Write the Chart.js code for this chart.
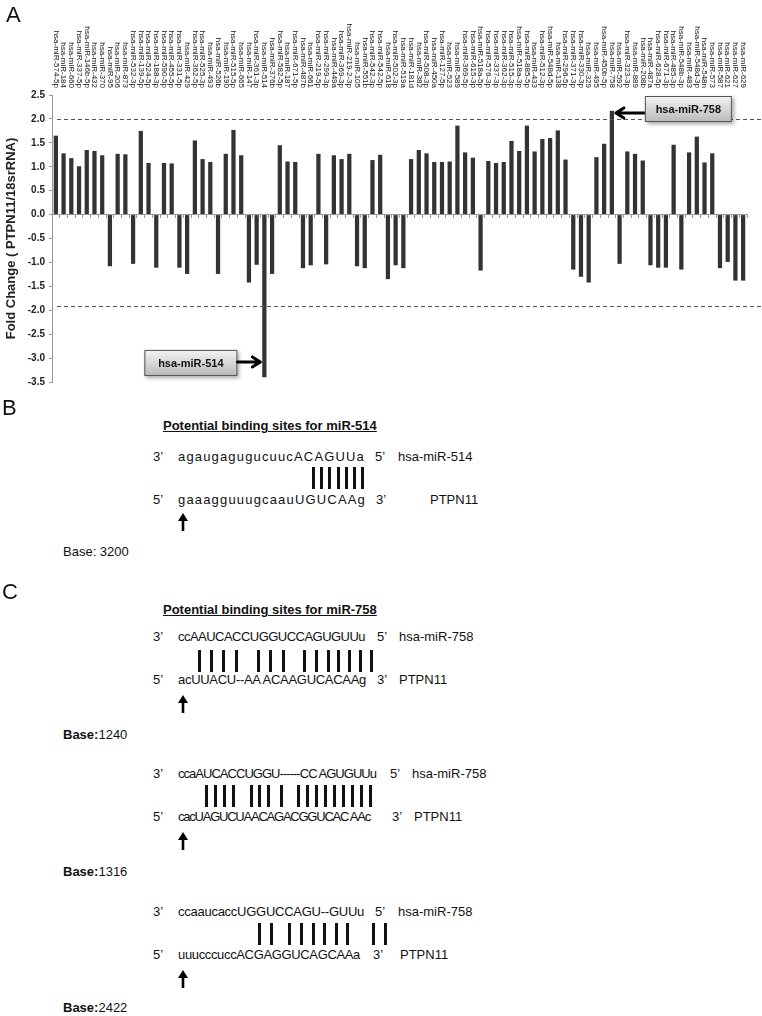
<!DOCTYPE html>
<html>
<head>
<meta charset="utf-8">
<script src="https://cdn.jsdelivr.net/npm/chart.js@4.4.1/dist/chart.umd.min.js"></script>
<style>
  body { margin: 0; width: 762px; height: 1016px; background: #fff; position: relative; overflow: hidden;
         font-family: "Liberation Sans", Arial, sans-serif; color: #111; }
  #chartBox { position: absolute; left: 0; top: 0; width: 762px; height: 392px; }
  .t { position: absolute; font-size: 13px; line-height: 16px; white-space: nowrap; }
  .panel { position: absolute; font-size: 22px; line-height: 24px; }
  .title { font-weight: bold; text-decoration: underline; }
  .bp { position: absolute; width: 3px; height: 22px; background: #111; }
  .up { position: absolute; }
</style>
</head>
<body>
<div id="chartBox"><canvas id="foldChart" width="762" height="392"></canvas></div>
<div class="panel" style="left:6px;top:3px">A</div>

<!-- Panel B -->
<div class="panel" style="left:2px;top:396px">B</div>
<div class="t title" style="left:163px;top:418px">Potential binding sites for miR-514</div>
<div class="t" style="left:153px;top:449px">3’</div>
<div class="t seq" data-w="187" style="left:178px;top:449px">agaugagugucuucACAGUUa</div>
<div class="t" style="left:375px;top:449px">5’</div>
<div class="t" style="left:398px;top:449px">hsa-miR-514</div>
<div class="t" style="left:153px;top:492px">5’</div>
<div class="t seq" data-w="188" style="left:178px;top:492px">gaaagguuugcaauUGUCAAg</div>
<div class="t" style="left:376px;top:492px">3’</div>
<div class="t" style="left:430px;top:492px">PTPN11</div>
<div class="t" style="left:63px;top:544px">Base: 3200</div>

<!-- Panel C -->
<div class="panel" style="left:2px;top:580px">C</div>
<div class="t title" style="left:163px;top:602px">Potential binding sites for miR-758</div>

<div class="t" style="left:153px;top:629px">3’</div>
<div class="t seq" data-w="187" style="left:178px;top:629px">ccAAUCACCUGGUCCAGUGUUu</div>
<div class="t" style="left:377px;top:629px">5’</div>
<div class="t" style="left:399px;top:629px">hsa-miR-758</div>
<div class="t" style="left:153px;top:672px">5’</div>
<div class="t seq" data-w="188" style="left:178px;top:672px">acUUACU--AA ACAAGUCACAAg</div>
<div class="t" style="left:377px;top:672px">3’</div>
<div class="t" style="left:399px;top:672px">PTPN11</div>
<div class="t" style="left:63px;top:727px"><b>Base:</b>1240</div>

<div class="t" style="left:153px;top:766px">3’</div>
<div class="t seq" data-w="198" style="left:178px;top:766px">ccaAUCACCUGGU------CC AGUGUUu</div>
<div class="t" style="left:390px;top:766px">5’</div>
<div class="t" style="left:412px;top:766px">hsa-miR-758</div>
<div class="t" style="left:153px;top:809px">5’</div>
<div class="t seq" data-w="192" style="left:178px;top:809px">cacUAGUCUAACAGACGGUCAC AAc</div>
<div class="t" style="left:392px;top:809px">3’</div>
<div class="t" style="left:414px;top:809px">PTPN11</div>
<div class="t" style="left:63px;top:864px"><b>Base:</b>1316</div>

<div class="t" style="left:153px;top:904px">3’</div>
<div class="t seq" data-w="186" style="left:178px;top:904px">ccaaucaccUGGUCCAGU--GUUu</div>
<div class="t" style="left:375px;top:904px">5’</div>
<div class="t" style="left:398px;top:904px">hsa-miR-758</div>
<div class="t" style="left:153px;top:947px">5’</div>
<div class="t seq" data-w="182" style="left:178px;top:947px">uuucccuccACGAGGUCAGCAAa</div>
<div class="t" style="left:373px;top:947px">3’</div>
<div class="t" style="left:400px;top:947px">PTPN11</div>
<div class="t" style="left:63px;top:1000px"><b>Base:</b>2422</div>

<script>
// miRNAs in plate order (left to right)
const mirNames = [
  'hsa-miR-574-5p', 'hsa-miR-184', 'hsa-miR-660', 'hsa-miR-337-5p', 'hsa-miR-146b-5p', 'hsa-miR-432',
  'hsa-miR-370', 'hsa-miR-95', 'hsa-miR-206', 'hsa-miR-873', 'hsa-miR-532-3p', 'hsa-miR-139-5p',
  'hsa-miR-524-5p', 'hsa-miR-188-3p', 'hsa-miR-590-5p', 'hsa-miR-455-5p', 'hsa-miR-331-5p', 'hsa-miR-429',
  'hsa-miR-362-5p', 'hsa-miR-525-3p', 'hsa-miR-493', 'hsa-miR-526b', 'hsa-miR-190', 'hsa-miR-515-5p',
  'hsa-miR-665', 'hsa-miR-147', 'hsa-miR-361-3p', 'hsa-miR-514', 'hsa-miR-376b', 'hsa-miR-582-5p',
  'hsa-miR-187', 'hsa-miR-671-5p', 'hsa-miR-487b', 'hsa-miR-661', 'hsa-miR-219-5p', 'hsa-miR-299-3p',
  'hsa-miR-449a', 'hsa-miR-369-3p', 'hsa-miR-219-2-3p', 'hsa-miR-105', 'hsa-miR-551b', 'hsa-miR-542-3p',
  'hsa-miR-542-5p', 'hsa-miR-618', 'hsa-miR-502-3p', 'hsa-miR-519a', 'hsa-miR-181d', 'hsa-miR-382',
  'hsa-miR-508-3p', 'hsa-miR-450a', 'hsa-miR-127-5p', 'hsa-miR-523', 'hsa-miR-589', 'hsa-miR-369-5p',
  'hsa-miR-615-3p', 'hsa-miR-518a-5p', 'hsa-miR-576-3p', 'hsa-miR-337-3p', 'hsa-miR-362-3p', 'hsa-miR-515-3p',
  'hsa-miR-518a-3p', 'hsa-miR-885-5p', 'hsa-miR-433', 'hsa-miR-512-3p', 'hsa-miR-548d-5p', 'hsa-miR-138',
  'hsa-miR-296-5p', 'hsa-miR-371-3p', 'hsa-miR-330-3p', 'hsa-miR-329', 'hsa-miR-495', 'hsa-miR-450b-5p',
  'hsa-miR-758', 'hsa-miR-592', 'hsa-miR-323-3p', 'hsa-miR-889', 'hsa-miR-208b', 'hsa-miR-487a',
  'hsa-miR-628-5p', 'hsa-miR-671-3p', 'hsa-miR-485-3p', 'hsa-miR-548b-3p', 'hsa-miR-483', 'hsa-miR-548d-3p',
  'hsa-miR-548n', 'hsa-miR-573', 'hsa-miR-587', 'hsa-miR-621', 'hsa-miR-627', 'hsa-miR-629'
];

// fold change PTPN11 / 18srRNA
const foldChange = [
  1.65, 1.28, 1.18, 1.01, 1.35, 1.33, 1.24, -1.08, 1.27, 1.26, -1.03, 1.75,
  1.08, -1.11, 1.08, 1.07, -1.11, -1.24, 1.55, 1.16, 1.10, -1.24, 1.27, 1.77,
  1.24, -1.42, -1.05, -3.40, -1.24, 1.45, 1.11, 1.10, -1.12, -1.06, 1.27, -1.04,
  1.24, 1.16, 1.27, -1.08, -1.12, 1.14, 1.25, -1.35, -1.06, -1.12, 1.16, 1.35,
  1.28, 1.10, 1.10, 1.11, 1.86, 1.30, 1.19, -1.17, 1.12, 1.08, 1.10, 1.54,
  1.33, 1.86, 1.32, 1.58, 1.60, 1.76, 1.15, -1.15, -1.30, -1.42, 1.20, 1.48,
  2.17, -1.03, 1.32, 1.27, 1.13, -1.06, -1.11, -1.11, 1.46, -1.15, 1.30, 1.63,
  1.09, 1.28, -1.12, -0.99, -1.38, -1.38
];

const yMin = -3.5;
const yMax = 2.5;
const yStep = 0.5;
const cutoffs = [2.0, -1.92];
const callouts = ['hsa-miR-758', 'hsa-miR-514'];

// stretch each sequence line to the width it has in the figure
document.querySelectorAll('.seq').forEach(el => {
  const natural = el.getBoundingClientRect().width;
  const n = el.textContent.length;
  el.style.letterSpacing = ((+el.dataset.w - natural) / n) + 'px';
});

// base-pair marks in panels B and C: [top, x positions]
const pairRows = [
  [467, [312, 320, 328, 337, 345, 353, 361]],
  [650, [198, 210, 222, 235, 257, 269, 282, 303, 315, 327, 337, 348, 359, 370]],
  [785, [205, 214, 223, 232, 250, 258, 267, 280, 297, 306, 315, 324, 333, 342, 351, 360, 369]],
  [923, [258, 270, 288, 300, 312, 323, 335, 346, 372, 384]]
];
const arrowRows = [512, 694, 831, 969];

pairRows.forEach(([top, xs]) => {
  xs.forEach(x => {
    const d = document.createElement('div');
    d.className = 'bp';
    d.style.left = x + 'px';
    d.style.top = top + 'px';
    document.body.appendChild(d);
  });
});
arrowRows.forEach(top => {
  const s = document.createElementNS('http://www.w3.org/2000/svg', 'svg');
  s.setAttribute('class', 'up');
  s.setAttribute('width', '12');
  s.setAttribute('height', '20');
  s.style.left = '177px';
  s.style.top = top + 'px';
  s.innerHTML = '<path d="M6 19 V7" stroke="#000" stroke-width="2.6"/><path d="M1 9 L6 1 L11 9 Z" fill="#000"/>';
  document.body.appendChild(s);
});

function drawCallout(ctx, text, left, top, w, h) {
  ctx.save();
  ctx.shadowColor = 'rgba(0,0,0,0.35)';
  ctx.shadowBlur = 4;
  ctx.shadowOffsetX = 2;
  ctx.shadowOffsetY = 2;
  const g = ctx.createLinearGradient(0, top, 0, top + h);
  g.addColorStop(0, '#f4f4f4');
  g.addColorStop(1, '#b9b9b9');
  ctx.fillStyle = g;
  ctx.fillRect(left, top, w, h);
  ctx.restore();
  ctx.save();
  ctx.strokeStyle = '#555';
  ctx.lineWidth = 1;
  ctx.strokeRect(left + 0.5, top + 0.5, w - 1, h - 1);
  ctx.fillStyle = '#111';
  ctx.font = 'bold 11px "Liberation Sans", Arial, sans-serif';
  ctx.textAlign = 'center';
  ctx.textBaseline = 'middle';
  ctx.fillText(text, left + w / 2, top + h / 2 + 1);
  ctx.restore();
}

function drawArrow(ctx, fromX, toX, yy) {
  const dir = toX > fromX ? 1 : -1;
  ctx.save();
  ctx.strokeStyle = '#000';
  ctx.lineWidth = 3;
  ctx.lineCap = 'round';
  ctx.lineJoin = 'round';
  ctx.beginPath();
  ctx.moveTo(fromX, yy);
  ctx.lineTo(toX, yy);
  ctx.moveTo(toX - dir * 8, yy - 5);
  ctx.lineTo(toX, yy);
  ctx.lineTo(toX - dir * 8, yy + 5);
  ctx.stroke();
  ctx.restore();
}

const overlay = {
  id: 'overlay',
  afterDraw(chart) {
    const { ctx, chartArea, scales: { x, y } } = chart;

    // rotated miRNA names above the plot
    ctx.save();
    ctx.font = '8px "Liberation Sans", Arial, sans-serif';
    ctx.fillStyle = '#111';
    ctx.textAlign = 'right';
    ctx.textBaseline = 'middle';
    mirNames.forEach((name, i) => {
      ctx.save();
      ctx.translate(x.getPixelForValue(i), 88);
      ctx.rotate(Math.PI / 2);
      ctx.fillText(name, 0, 0);
      ctx.restore();
    });
    ctx.restore();

    // 2-fold cut-off lines
    ctx.save();
    ctx.strokeStyle = '#555';
    ctx.lineWidth = 1;
    ctx.setLineDash([4, 3]);
    cutoffs.forEach(v => {
      const py = Math.round(y.getPixelForValue(v)) + 0.5;
      ctx.beginPath();
      ctx.moveTo(chartArea.left + 5, py);
      ctx.lineTo(chart.width, py);
      ctx.stroke();
    });
    ctx.restore();

    // call-out boxes
    const i758 = mirNames.indexOf(callouts[0]);
    const b758 = x.getPixelForValue(i758);
    const a758 = y.getPixelForValue(2.0) - 6;
    drawArrow(ctx, b758 + 33, b758 + 4, a758);
    drawCallout(ctx, callouts[0], b758 + 33, y.getPixelForValue(yMax) + 1, 87, 26);

    const i514 = mirNames.indexOf(callouts[1]);
    const b514 = x.getPixelForValue(i514);
    const top514 = y.getPixelForValue(-2.83);
    drawCallout(ctx, callouts[1], b514 - 120, top514, 93, 26);
    drawArrow(ctx, b514 - 27, b514 - 4, top514 + 12);
  }
};

new Chart(document.getElementById('foldChart').getContext('2d'), {
  type: 'bar',
  data: {
    labels: mirNames,
    datasets: [{
      data: foldChange,
      backgroundColor: '#333',
      borderWidth: 0,
      barPercentage: 0.55,
      categoryPercentage: 1.0
    }]
  },
  options: {
    responsive: false,
    animation: false,
    layout: { padding: { top: 95, right: 15, bottom: 9, left: 0 } },
    plugins: { legend: { display: false }, tooltip: { enabled: false } },
    scales: {
      x: {
        position: { y: 0 },
        offset: true,
        ticks: { display: false },
        grid: { drawOnChartArea: false, offset: true, tickLength: 3, color: '#999' },
        border: { color: '#999' }
      },
      y: {
        min: yMin,
        max: yMax,
        ticks: {
          stepSize: yStep,
          callback: v => v.toFixed(1),
          font: { family: '"Liberation Sans", Arial, sans-serif', size: 10, weight: 'bold' },
          color: '#222',
          padding: 4
        },
        grid: { drawOnChartArea: false, tickLength: 3, color: '#999' },
        border: { color: '#999' },
        title: {
          display: true,
          text: 'Fold Change ( PTPN11/18srRNA)',
          font: { family: '"Liberation Sans", Arial, sans-serif', size: 13, weight: 'bold' },
          color: '#222',
          padding: { top: 4, bottom: 0 }
        },
        afterFit(scale) { scale.width = 52; }
      }
    }
  },
  plugins: [overlay]
});
</script>
</body>
</html>
